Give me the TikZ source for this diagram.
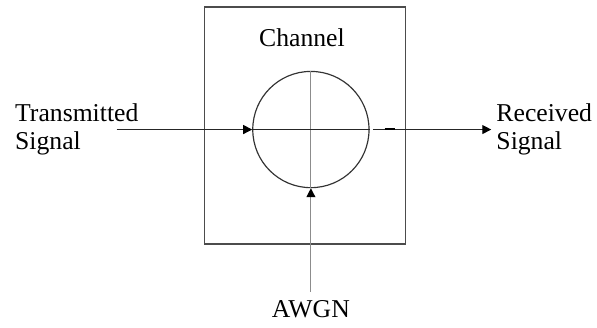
\documentclass[tikz,border=0pt]{standalone}
\usepackage{fontspec}
\setmainfont{Liberation Serif}
\usetikzlibrary{arrows.meta}

\begin{document}
\begin{tikzpicture}[x=0.03cm,y=-0.03cm,
    lbl/.style={font=\fontsize{22}{24}\selectfont,inner sep=0pt},
    tip/.style={-{Triangle[length=2.7mm,width=2.7mm,black]}},
    sig/.style={line width=1pt,black!85},
    noise/.style={line width=1pt,black!45}]

    \fill[white] (0,0) rectangle (597,327);

    \node[draw=black!70,line width=1.1pt,minimum width=6.06cm,minimum height=7.14cm] (ch) at (306,126) {};
    \node[lbl,anchor=base] (chl) at (303,47) {Channel};
    \node[circle,draw=black!80,line width=1pt,minimum size=3.5cm,inner sep=0pt] (sum) at (312,130) {};

    \node[lbl,anchor=west,align=left] (tx) at (15,130) {Transmitted\\Signal};
    \node[lbl,anchor=west,align=left,inner sep=0.15cm] (rx) at (493,130) {Received\\Signal};
    \node[lbl,anchor=base,inner sep=0.27cm] (awgn) at (312,319) {AWGN};
    \coordinate (in) at (117,130);

    \draw[noise] (sum.north) -- (sum.south);
    \draw[sig] (sum.west) -- (sum.east);
    \draw[sig,tip] (in) -- (sum.west);
    \draw[sig,tip] ([xshift=0.1cm]sum.east) -- (rx.west);
    \draw[noise,tip] (awgn.north) -- (sum.south);
    \draw[line width=1.8pt] (386,129.5) -- (396,129.5);

\end{tikzpicture}
\end{document}
